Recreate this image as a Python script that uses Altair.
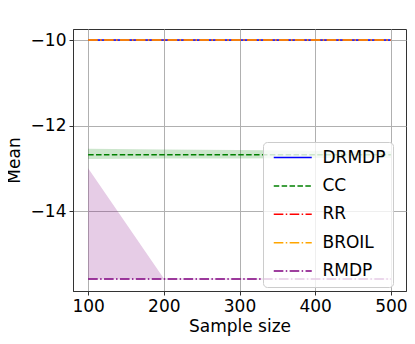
import altair as alt
import pandas as pd

sizes = [100, 200, 300, 400, 500]
series_names = ["DRMDP", "CC", "RR", "BROIL", "RMDP"]
series_colors = ["#0000ff", "#008000", "#ff0000", "#ffa500", "#800080"]
series_dash = [[1, 0], [5.5, 2.4], [9.6, 2.4, 1.5, 2.4], [9.6, 2.4, 1.5, 2.4], [9.6, 2.4, 1.5, 2.4]]

drmdp = [-10.0, -10.0, -10.0, -10.0, -10.0]
cc = [-12.68, -12.68, -12.68, -12.68, -12.68]
rr = [-10.0, -10.0, -10.0, -10.0, -10.0]
broil = [-10.0, -10.0, -10.0, -10.0, -10.0]
rmdp = [-15.59, -15.59, -15.59, -15.59, -15.59]

cc_lo = [-12.78, -12.77, -12.77, -12.76, -12.76]
cc_hi = [-12.54, -12.56, -12.57, -12.59, -12.60]
rmdp_lo = [-15.60, -15.60, -15.60, -15.60, -15.60]
rmdp_hi = [-13.00, -15.58, -15.58, -15.58, -15.58]

values = {"DRMDP": drmdp, "CC": cc, "RR": rr, "BROIL": broil, "RMDP": rmdp}
rows = []
for name in series_names:
    for s, v in zip(sizes, values[name]):
        rows.append({"size": s, "mean": v, "series": name})
lines_df = pd.DataFrame(rows)

band_rows = []
for name, lo, hi in [("CC", cc_lo, cc_hi), ("RMDP", rmdp_lo, rmdp_hi)]:
    for s, a, b in zip(sizes, lo, hi):
        band_rows.append({"size": s, "lo": a, "hi": b, "series": name})
band_df = pd.DataFrame(band_rows)

xscale = alt.Scale(domain=[80, 520], nice=False, zero=False)
yscale = alt.Scale(domain=[-15.87, -9.74], nice=False, zero=False)

xaxis = alt.Axis(title="Sample size", values=[100, 200, 300, 400, 500], titlePadding=4)
yaxis = alt.Axis(title="Mean", values=[-14, -12, -10], titlePadding=7,
                 labelExpr="replace(datum.label, '-', '\u2212')")

color = alt.Color("series:N", scale=alt.Scale(domain=series_names, range=series_colors),
                  legend=alt.Legend(title=None, orient="none", legendX=190, legendY=113,
                                    symbolType="M-1,0H7", symbolSize=90.25, symbolStrokeWidth=1.5,
                                    symbolFillColor="transparent",
                                    labelFontSize=17, labelOffset=35.5, rowPadding=10.4,
                                    padding=7, fillColor="rgba(255,255,255,0.8)",
                                    strokeColor="#cccccc", cornerRadius=4))
dash = alt.StrokeDash("series:N", scale=alt.Scale(domain=series_names, range=series_dash),
                      legend=None)

bands = alt.Chart(band_df).mark_area(opacity=0.2).encode(
    x=alt.X("size:Q", scale=xscale, axis=xaxis),
    y=alt.Y("lo:Q", scale=yscale, axis=yaxis),
    y2="hi:Q",
    fill=alt.Fill("series:N", scale=alt.Scale(domain=series_names, range=series_colors), legend=None),
    detail="series:N",
)

layers = [bands]
for name in series_names:
    layers.append(
        alt.Chart(lines_df).transform_filter(alt.datum.series == name)
        .mark_line(strokeWidth=1.5)
        .encode(
            x=alt.X("size:Q", scale=xscale, axis=xaxis),
            y=alt.Y("mean:Q", scale=yscale, axis=yaxis),
            color=color,
            strokeDash=dash,
        )
    )

chart = alt.layer(*layers).resolve_scale(fill="independent").properties(
    width=333, height=262,
    autosize=alt.AutoSizeParams(type="none"),
    padding={"left": 65, "top": 21, "right": 1, "bottom": 45},
).configure(font="DejaVu Sans").configure_axis(
    labelFontSize=17, titleFontSize=17, titleFontWeight="normal",
    labelColor="black", titleColor="black",
    gridColor="#b0b0b0", gridWidth=1, domainColor="#333333",
    tickColor="#333333", tickSize=4, labelPadding=3,
).configure_view(stroke="#333333", strokeWidth=1).configure_legend(labelColor="black")

chart.save("out.html", embed_options={"renderer": "svg", "actions": False})
